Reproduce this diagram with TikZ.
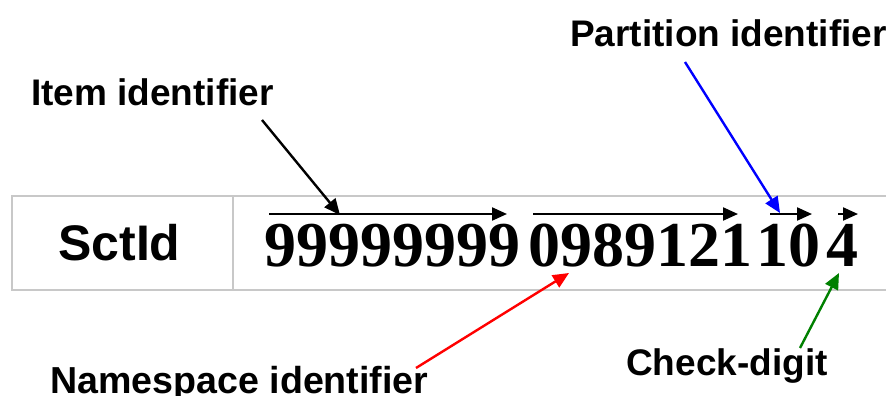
\documentclass[tikz,border=0pt]{standalone}
\usepackage{fontspec}
\setmainfont{Liberation Serif}
\newfontfamily\labelfont{Liberation Sans}
\usetikzlibrary{arrows.meta}
\definecolor{gridgray}{RGB}{200,200,200}
\definecolor{nsred}{RGB}{255,0,0}
\definecolor{ptblue}{RGB}{0,0,255}
\definecolor{ckgreen}{RGB}{0,128,0}
\tikzset{
  tablerule/.style={draw=gridgray, line width=2pt},
  caption/.style={inner sep=0pt, anchor=base west, font=\labelfont\bfseries\fontsize{37}{37}\selectfont},
  digits/.style={inner sep=0pt, anchor=base west, font=\bfseries\fontsize{64}{64}\selectfont},
  span/.style={line width=2.2pt, -{Triangle[length=15pt,width=13pt]}},
  pointer/.style={line width=2.4pt, -{Triangle[length=16pt,width=14pt]}},
}
\begin{document}
\begin{tikzpicture}[x=1pt,y=-1pt]
\useasboundingbox (0,0) rectangle (886,396);
% table frame, open on the right
\draw[tablerule] (886,196) -- (12,196) -- (12,290) -- (886,290);
\draw[tablerule] (233,196) -- (233,290);
\node[inner sep=0pt, anchor=base west, font=\labelfont\bfseries\fontsize{50}{50}\selectfont] (sct) at (58,260) {SctId};
% digit groups
\node[digits] (item) at (264,266) {99999999};
\node[digits] (ns) at (528,266) {0989121};
\node[digits] (part) at (756,266) {10};
\node[digits] (chk) at (826,266) {4};
% spans above each group
\coordinate (i1) at (269,214); \coordinate (i2) at (507,214);
\coordinate (n1) at (533,214); \coordinate (n2) at (738,214);
\coordinate (p1) at (770,214); \coordinate (p2) at (812,214);
\coordinate (c1) at (838,214); \coordinate (c2) at (858,214);
\draw[span] (i1) -- (i2);
\draw[span] (n1) -- (n2);
\draw[span] (p1) -- (p2);
\draw[span] (c1) -- (c2);
% captions
\node[caption] (itemlbl) at (31,105) {Item identifier};
\node[caption] (partlbl) at (570,47) {Partition identifier};
\node[caption, font=\labelfont\bfseries\fontsize{37.6}{37.6}\selectfont] (nslbl) at (50,393) {Namespace identifier};
\node[caption] (chklbl) at (626,375) {Check-digit};
% pointers from the captions to the digits
\coordinate (itemfoot) at (262,120); \coordinate (itemtip) at (340,215);
\coordinate (partfoot) at (685,62);  \coordinate (parttip) at (780,213);
\coordinate (nsfoot) at (416,368);   \coordinate (nstip) at (569,273);
\coordinate (chkfoot) at (800,348);  \coordinate (chktip) at (839,273);
\draw[pointer] (itemfoot) -- (itemtip);
\draw[pointer, ptblue] (partfoot) -- (parttip);
\draw[pointer, nsred] (nsfoot) -- (nstip);
\draw[pointer, ckgreen] (chkfoot) -- (chktip);
\end{tikzpicture}
\end{document}
